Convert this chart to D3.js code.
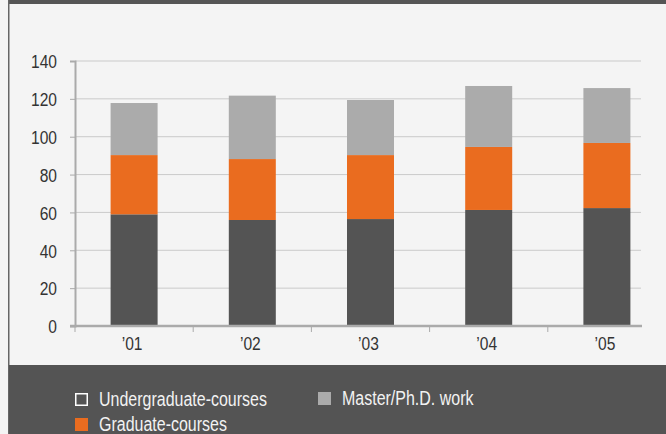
<!DOCTYPE html>
<html>
<head>
    <meta charset="utf-8">
    <script src="https://d3js.org/d3.v7.min.js"></script>
    <style type="text/css">
        body { margin: 0; background: #f4f4f4; }
        .axis text { font-family: "Liberation Sans", Arial, sans-serif; font-size: 19px; fill: #333; }
        .legend { font-family: "Liberation Sans", Arial, sans-serif; font-size: 19.5px; fill: #f2f2f2; }
    </style>
</head>
<body>
    <div id="chart"></div>
    <script>
        // data
        const years = ["\u201901", "\u201902", "\u201903", "\u201904", "\u201905"];
        const undergrad = [59, 56, 56.5, 61.3, 62.3];
        const graduate = [31.3, 32.2, 33.8, 33.3, 34.4];
        const master = [27.5, 33.5, 29.1, 32.2, 29];
        const yTicks = [0, 20, 40, 60, 80, 100, 120, 140];
        const seriesNames = ["Undergraduate-courses", "Graduate-courses", "Master/Ph.D. work"];

        const W = 666, H = 434;
        const margin = { top: 61, left: 75, bottom: 108, right: 0 };
        const plotH = H - margin.top - margin.bottom;   // 265
        const axisEnd = 641;
        const narrow = 0.82; // squeeze text horizontally, the original uses a narrow face

        const svg = d3.select("#chart").append("svg")
            .attr("width", W).attr("height", H);

        // frame: top bar, left border, bottom band
        svg.append("rect").attr("x", 8).attr("y", 0).attr("width", W - 8).attr("height", 4).attr("fill", "#555");
        svg.append("rect").attr("x", 8).attr("y", 0).attr("width", 1.5).attr("height", H).attr("fill", "#666");
        svg.append("rect").attr("x", 9).attr("y", 365).attr("width", W - 9).attr("height", H - 365).attr("fill", "#545454");

        const rows = years.map((y, i) => ({ year: y, u: undergrad[i], g: graduate[i], m: master[i] }));
        const stack = d3.stack().keys(["u", "g", "m"])(rows);
        const color = d3.scaleOrdinal().domain(["u", "g", "m"]).range(["#545454", "#ea6c1f", "#ababab"]);

        const x = d3.scaleBand().domain(years).range([margin.left, margin.left + 5 * 118.2]);
        const y = d3.scaleLinear().domain([0, 140]).range([margin.top + plotH, margin.top]);

        // grid
        svg.append("g").selectAll("line").data(yTicks.slice(1)).join("line")
            .attr("x1", margin.left).attr("x2", axisEnd)
            .attr("y1", d => y(d)).attr("y2", d => y(d))
            .attr("stroke", "#cacaca").attr("stroke-width", 1);

        // bars
        svg.append("g").selectAll("g").data(stack).join("g")
            .attr("fill", d => color(d.key))
            .selectAll("rect").data(d => d).join("rect")
            .attr("x", d => x(d.data.year) + (x.bandwidth() - 47) / 2)
            .attr("width", 47)
            .attr("y", d => y(d[1]))
            .attr("height", d => y(d[0]) - y(d[1]));

        // y axis
        const yAxis = svg.append("g").attr("class", "axis")
            .attr("transform", `translate(${margin.left},0)`)
            .call(d3.axisLeft(y).tickValues(yTicks).tickSize(5));
        yAxis.select(".domain").attr("stroke", "#aaa").attr("stroke-width", 2);
        yAxis.selectAll(".tick line").attr("stroke", "#aaa");
        yAxis.selectAll(".tick text")
            .attr("x", 0).attr("dy", "0.36em")
            .attr("transform", `translate(-18,0) scale(${narrow},1)`);

        // x axis
        const xAxis = svg.append("g").attr("class", "axis").attr("transform", `translate(0,${y(0)})`);
        xAxis.append("line").attr("x1", margin.left - 5).attr("x2", axisEnd + 1)
            .attr("stroke", "#aaa").attr("stroke-width", 2.5);
        xAxis.selectAll(".sep").data(years).join("line")
            .attr("x1", d => x(d)).attr("x2", d => x(d))
            .attr("y1", 0).attr("y2", 6).attr("stroke", "#aaa");
        xAxis.selectAll(".lab").data(years).join("text")
            .attr("transform", d => `translate(${x(d) + x.bandwidth() / 2 - 2},24) scale(${narrow},1)`)
            .attr("text-anchor", "middle")
            .text(d => d);

        // legend
        const legend = [
            { name: seriesNames[0], x: 75, y: 399, fill: "none", stroke: "#fff" },
            { name: seriesNames[2], x: 318, y: 398, fill: "#ababab", stroke: "none" },
            { name: seriesNames[1], x: 75, y: 424, fill: "#ea6c1f", stroke: "none" }
        ];
        const lg = svg.append("g").selectAll("g").data(legend).join("g")
            .attr("transform", d => `translate(${d.x},${d.y})`);
        lg.append("rect").attr("x", d => d.stroke === "none" ? 0 : 0.75).attr("y", d => d.stroke === "none" ? -6 : -5.25)
            .attr("width", d => d.stroke === "none" ? 13 : 11.5).attr("height", d => d.stroke === "none" ? 13 : 11.5)
            .attr("fill", d => d.fill).attr("stroke", d => d.stroke).attr("stroke-width", 1.5);
        lg.append("text").attr("class", "legend")
            .attr("transform", `translate(24,7) scale(${narrow},1)`)
            .text(d => d.name);
    </script>
</body>
</html>
